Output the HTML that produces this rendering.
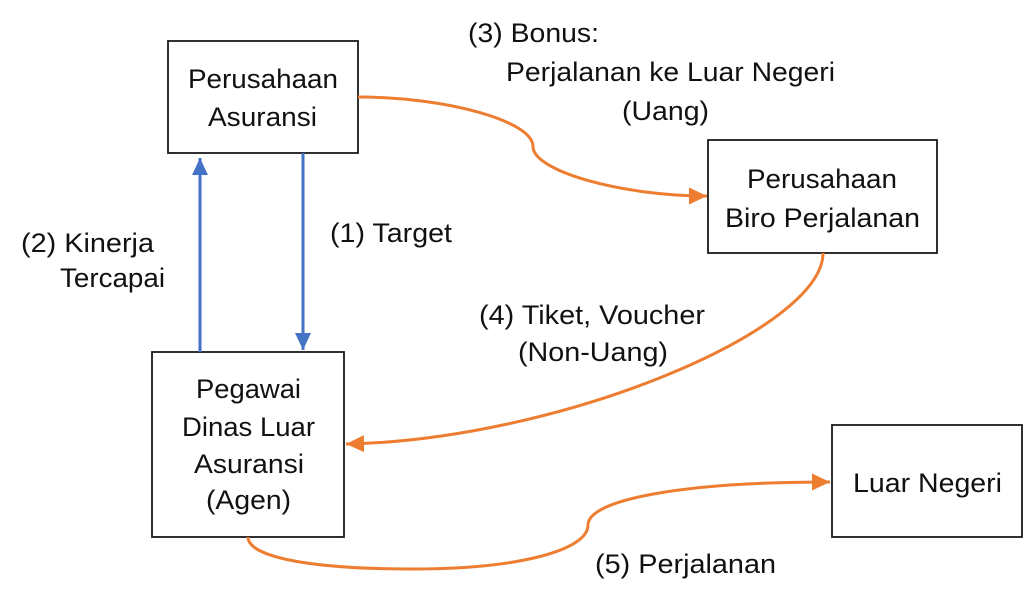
<!DOCTYPE html>
<html>
<head>
<meta charset="utf-8">
<style>
  html, body { margin: 0; padding: 0; background: #ffffff; }
  svg { display: block; }
  text { font-family: "Liberation Sans", "DejaVu Sans", sans-serif; font-size: 27px; fill: #111111; }
</style>
</head>
<body>
<svg width="1024" height="602" viewBox="0 0 1024 602" xmlns="http://www.w3.org/2000/svg">
  <defs>
    <marker id="ao" markerUnits="userSpaceOnUse" markerWidth="20" markerHeight="20" refX="18" refY="8.5" orient="auto">
      <path d="M0,0 L18,8.5 L0,17 z" fill="#ED7D31"/>
    </marker>
    <marker id="ab" markerUnits="userSpaceOnUse" markerWidth="20" markerHeight="20" refX="17" refY="8" orient="auto">
      <path d="M0,0 L17,8 L0,16 z" fill="#4472C4"/>
    </marker>
  </defs>

  <!-- Boxes -->
  <rect x="168" y="41" width="190" height="112" fill="#fff" stroke="#1a1a1a" stroke-width="1.8"/>
  <rect x="708" y="140" width="229" height="113" fill="#fff" stroke="#1a1a1a" stroke-width="1.8"/>
  <rect x="152" y="352" width="192" height="185" fill="#fff" stroke="#1a1a1a" stroke-width="1.8"/>
  <rect x="832" y="425" width="190" height="112" fill="#fff" stroke="#1a1a1a" stroke-width="1.8"/>

  <!-- Blue arrows -->
  <line x1="200" y1="352" x2="200" y2="158" stroke="#4472C4" stroke-width="3" marker-end="url(#ab)"/>
  <line x1="303" y1="153" x2="303" y2="350" stroke="#4472C4" stroke-width="3" marker-end="url(#ab)"/>

  <!-- Orange curves -->
  <path d="M358,97 C446,97 533,121 533,146.5 C533,171 621,196 707,196" fill="none" stroke="#ED7D31" stroke-width="3" marker-end="url(#ao)"/>
  <path d="M823,253 C823,330 560,440 346,444" fill="none" stroke="#ED7D31" stroke-width="3" marker-end="url(#ao)"/>
  <path d="M248,537 C248,555 300,569 412,569 C520,569 588,550 588,525 C588,500 680,482 830,482" fill="none" stroke="#ED7D31" stroke-width="3" marker-end="url(#ao)"/>

  <!-- Box texts -->
  <text x="188" y="88" textLength="150" lengthAdjust="spacingAndGlyphs">Perusahaan</text>
  <text x="208" y="126" textLength="109" lengthAdjust="spacingAndGlyphs">Asuransi</text>

  <text x="747" y="188" textLength="150" lengthAdjust="spacingAndGlyphs">Perusahaan</text>
  <text x="725" y="227" textLength="195" lengthAdjust="spacingAndGlyphs">Biro Perjalanan</text>

  <text x="196" y="398" textLength="105" lengthAdjust="spacingAndGlyphs">Pegawai</text>
  <text x="182" y="436" textLength="133" lengthAdjust="spacingAndGlyphs">Dinas Luar</text>
  <text x="194" y="473" textLength="110" lengthAdjust="spacingAndGlyphs">Asuransi</text>
  <text x="206" y="509" textLength="85" lengthAdjust="spacingAndGlyphs">(Agen)</text>

  <text x="853" y="492" textLength="149" lengthAdjust="spacingAndGlyphs">Luar Negeri</text>

  <!-- Connector labels -->
  <text x="330" y="242" textLength="122" lengthAdjust="spacingAndGlyphs">(1) Target</text>
  <text x="21" y="252" textLength="133" lengthAdjust="spacingAndGlyphs">(2) Kinerja</text>
  <text x="60" y="287" textLength="105" lengthAdjust="spacingAndGlyphs">Tercapai</text>

  <text x="468" y="42" textLength="131" lengthAdjust="spacingAndGlyphs">(3) Bonus:</text>
  <text x="506" y="81" textLength="329" lengthAdjust="spacingAndGlyphs">Perjalanan ke Luar Negeri</text>
  <text x="622" y="120" textLength="87" lengthAdjust="spacingAndGlyphs">(Uang)</text>

  <text x="479" y="324" textLength="226" lengthAdjust="spacingAndGlyphs">(4) Tiket, Voucher</text>
  <text x="518" y="361" textLength="150" lengthAdjust="spacingAndGlyphs">(Non-Uang)</text>

  <text x="595" y="573" textLength="181" lengthAdjust="spacingAndGlyphs">(5) Perjalanan</text>
</svg>
</body>
</html>
